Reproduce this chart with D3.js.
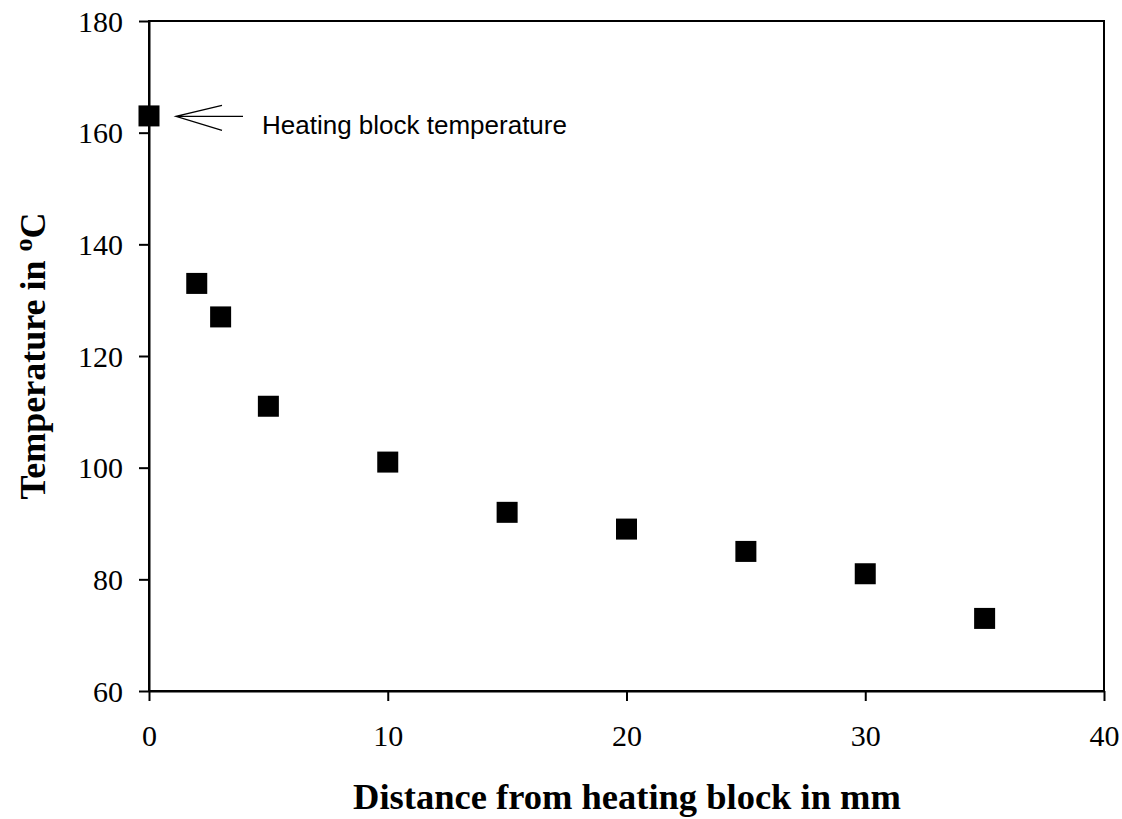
<!DOCTYPE html>
<html><head><meta charset="utf-8">
<script src="https://cdn.jsdelivr.net/npm/d3@7"></script>
<style>body{margin:0;background:#fff}svg{display:block}</style>
</head><body>
<svg id="c" width="1122" height="819"></svg>
<script>
const distances = [0, 2, 3, 5, 10, 15, 20, 25, 30, 35];
const temperatures = [163, 133, 127, 111, 101, 92, 89, 85, 81, 73];
const xTicks = [0, 10, 20, 30, 40];
const yTicks = [60, 80, 100, 120, 140, 160, 180];
const annotation = "Heating block temperature";

const svg = d3.select("#c");
const L = 149, R = 1104, T = 21, B = 691;
const x = d3.scaleLinear().domain([0, 40]).range([L, R]);
const y = d3.scaleLinear().domain([60, 180]).range([B, T]);

const serif = "'Liberation Serif','Times New Roman',serif";

// frame
svg.append("rect").attr("x", L).attr("y", T).attr("width", R - L).attr("height", B - T)
  .attr("fill", "none").attr("stroke", "#000").attr("stroke-width", 2);

const xa = svg.append("g").attr("transform", `translate(0,${B})`)
  .call(d3.axisBottom(x).tickValues(xTicks).tickSize(10).tickSizeOuter(0).tickPadding(24).tickFormat(d3.format("d")));
const ya = svg.append("g").attr("transform", `translate(${L},0)`)
  .call(d3.axisLeft(y).tickValues(yTicks).tickSize(10).tickSizeOuter(0).tickPadding(16).tickFormat(d3.format("d")));
[xa, ya].forEach(g => {
  g.attr("font-size", null).attr("font-family", null);
  g.select(".domain").attr("stroke", "#000").attr("stroke-width", 2);
  g.selectAll(".tick line").attr("stroke", "#000").attr("stroke-width", 2);
  g.selectAll("text").style("font-family", serif).style("font-size", "30px").attr("fill", "#000");
});
ya.selectAll("text").attr("dy", "0.34em");

// markers
const s = 21;
svg.append("g").selectAll("rect").data(distances).join("rect")
  .attr("x", (d) => x(d) - s / 2)
  .attr("y", (d, i) => y(temperatures[i]) - s / 2)
  .attr("width", s).attr("height", s).attr("fill", "#000");

// annotation arrow
const ay = y(temperatures[0]) + 0.5;
const tipX = x(distances[0]) + 27;
svg.append("path")
  .attr("d", `M${tipX + 67},${ay} L${tipX},${ay} M${tipX + 46},${ay - 11} L${tipX},${ay} L${tipX + 46},${ay + 14}`)
  .attr("fill", "none").attr("stroke", "#000").attr("stroke-width", 1.3);
svg.append("text").attr("x", 262).attr("y", 134)
  .style("font-family", "'Liberation Sans',Arial,sans-serif").style("font-size", "26px")
  .text(annotation);

// axis titles
svg.append("text").attr("x", 627).attr("y", 809)
  .attr("text-anchor", "middle").style("font-family", serif).attr("font-weight", "bold")
  .style("font-size", "36.5px").text("Distance from heating block in mm");

const yt = svg.append("text").attr("transform", `translate(45,${(T + B) / 2}) rotate(-90)`)
  .attr("text-anchor", "middle").style("font-family", serif).attr("font-weight", "bold")
  .style("font-size", "36px");
yt.append("tspan").text("Temperature in ");
yt.append("tspan").attr("dy", -13).style("font-size", "26px").text("o");
yt.append("tspan").attr("dy", 13).text("C");
</script>
</body></html>
